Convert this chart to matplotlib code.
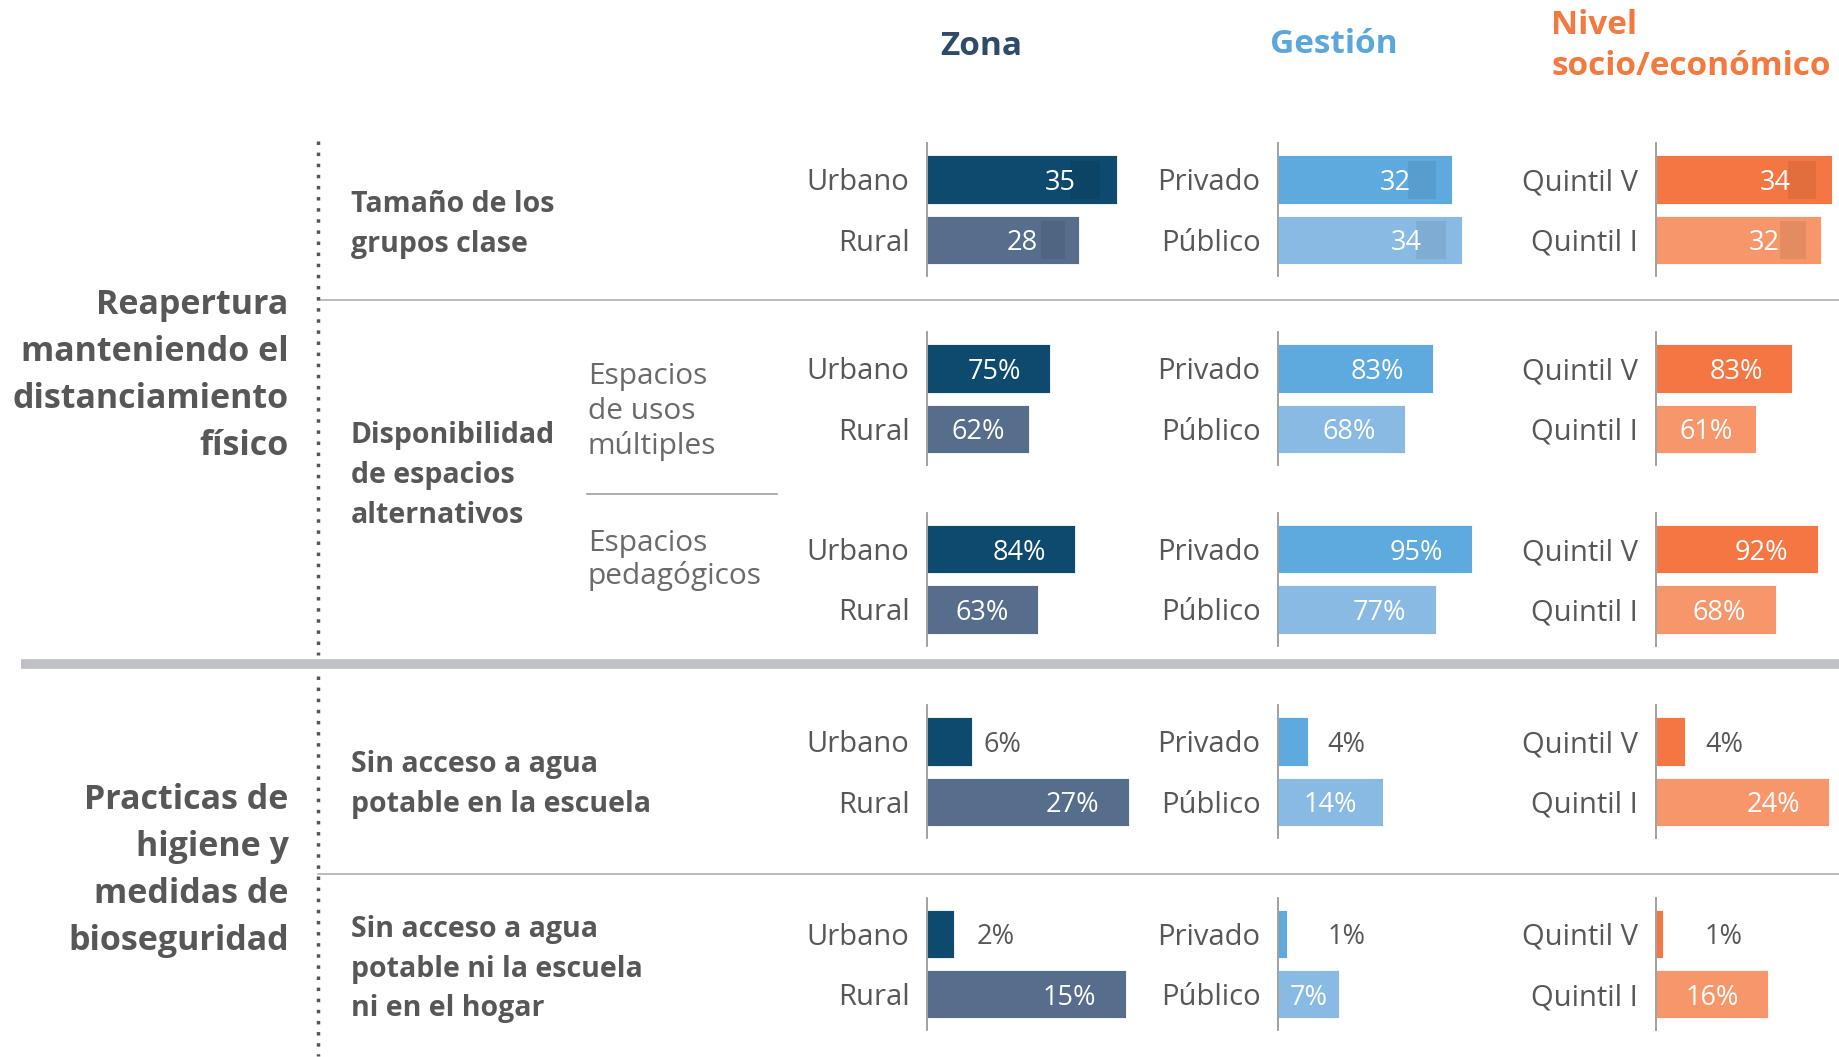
import matplotlib
matplotlib.use("Agg")
import matplotlib.pyplot as plt
from matplotlib.patches import Rectangle

plt.rcParams["font.family"] = ["Open Sans", "DejaVu Sans"]

# ---- data ----
row_titles = [
    "Tamaño de los\ngrupos clase",
    "Disponibilidad\nde espacios\nalternativos",
    "",
    "Sin acceso a agua\npotable en la escuela",
    "Sin acceso a agua\npotable ni la escuela\nni en el hogar",
]
sub_titles = ["", "Espacios\nde usos\nmúltiples", "Espacios\npedagógicos", "", ""]
group_titles = [
    "Reapertura\nmanteniendo el\ndistanciamiento\nfísico",
    "Practicas de\nhigiene y\nmedidas de\nbioseguridad",
]

zona_labels = ["Urbano", "Rural"]
gestion_labels = ["Privado", "Público"]
nivel_labels = ["Quintil V", "Quintil I"]

zona_vals = [[35, 28], [75, 62], [84, 63], [6, 27], [2, 15]]
gestion_vals = [[32, 34], [83, 68], [95, 77], [4, 14], [1, 7]]
nivel_vals = [[34, 32], [83, 61], [92, 68], [4, 24], [1, 16]]
row_units = ["", "%", "%", "%", "%"]

# ---- layout / style (in px of a 1568x901 canvas) ----
W, H = 1568, 901
S2PT = (1840 / 1568) * 72 / 100  # canvas px -> points

panel_x = [790, 1089, 1411]
panel_w = 185
row_center = [153, 314, 468, 632, 796]
row_step = 51.5
panel_xmax = [[40, 40, 42], [132, 116, 132], [123, 106, 123], [29, 29, 30], [16.4, 25, 31]]

groups = [
    ("Zona", zona_labels, zona_vals, ["#0d4a6e", "#566d8b"], "#2f4b6a"),
    ("Gestión", gestion_labels, gestion_vals, ["#5ea9dd", "#88bae4"], "#5ba7dc"),
    ("Nivel\nsocio/económico", nivel_labels, nivel_vals, ["#f47743", "#f7966a"], "#f4793f"),
]

TXT = "#575757"

fig = plt.figure(figsize=(18.4, 10.57), dpi=100)
bg = fig.add_axes([0, 0, 1, 1])
bg.set_xlim(0, W)
bg.set_ylim(H, 0)
bg.axis("off")


def lines(x, ys, text, **kw):
    for y, t in zip(ys, text.split("\n")):
        bg.text(x, y, t, va="center", **kw)


# headers
bg.text(836, 40, "Zona", ha="center", va="center", fontsize=24, fontweight="bold", color=groups[0][4])
bg.text(1137, 38, "Gestión", ha="center", va="center", fontsize=24, fontweight="bold", color=groups[1][4])
lines(1322, [22, 57], groups[2][0], ha="left", fontsize=24, fontweight="bold", color=groups[2][4])

# group titles
lines(246, [260, 300, 340, 380], group_titles[0], ha="right", fontsize=24.5, fontweight="bold", color=TXT)
lines(246, [682, 722, 762, 802], group_titles[1], ha="right", fontsize=24.5, fontweight="bold", color=TXT)

# row titles
title_y = [[174, 208], [371, 405, 439], [], [652, 686], [792, 826, 860]]
for t, ys in zip(row_titles, title_y):
    if t:
        lines(299, ys, t, ha="left", fontsize=20.5, fontweight="bold", color=TXT)
lines(501, [321, 351, 380], sub_titles[1], ha="left", fontsize=21.5, color="#6a6a6a")
lines(501, [463, 491], sub_titles[2], ha="left", fontsize=21.5, color="#6a6a6a")

# separators
bg.plot([271, W], [256, 256], color="#b5b5b5", lw=1.3)
bg.plot([271, W], [745, 745], color="#b5b5b5", lw=1.3)
bg.plot([500, 662], [421, 421], color="#a0a0a0", lw=1.2)
bg.plot([18, W], [566, 566], color="#c0c1c5", lw=7, solid_capstyle="butt")
bg.plot([271, 271], [120, 558], color="#555555", lw=2.5, ls=(0, (1, 2.2)))
bg.plot([271, 271], [576, 900], color="#555555", lw=2.5, ls=(0, (1, 2.2)))

# bar panels
for r in range(5):
    top = row_center[r] - 0.6 * row_step
    h = 2.2 * row_step
    for g, (name, labels, vals, colors, _) in enumerate(groups):
        ax = fig.add_axes([panel_x[g] / W, 1 - (top + h) / H, panel_w / W, h / H])
        ax.set_facecolor("none")
        xmax = panel_xmax[r][g]
        v = vals[r]
        ax.barh([0, 1], v, height=0.8, color=colors, edgecolor="white", linewidth=0.6, zorder=2)
        ax.set_xlim(0, xmax)
        ax.set_ylim(1.6, -0.6)
        ax.set_xticks([])
        ax.set_yticks([0, 1], labels)
        ax.tick_params(axis="y", length=0, pad=15 * S2PT, labelsize=21, labelcolor=TXT)
        for s in ["top", "right", "bottom"]:
            ax.spines[s].set_visible(False)
        ax.spines["left"].set_color("#9a9a9a")
        ax.spines["left"].set_linewidth(1.3)
        ax.spines["left"].set_zorder(3)
        for i, val in enumerate(v):
            w_px = val * panel_w / xmax
            label = f"{val}{row_units[r]}"
            if r == 0:
                ax.add_patch(Rectangle((0.75 * val, i - 0.31), 0.16 * val, 0.63,
                                       color="black", alpha=0.07, lw=0, zorder=2.5))
            if w_px < 50:
                dx = max(w_px + 10, 42) - w_px
                ax.annotate(label, (val, i), xytext=(dx * S2PT, -3 * S2PT), textcoords="offset points",
                            ha="left", va="center", fontsize=19.5, color=TXT, zorder=4)
            else:
                dx = -min(w_px / 2, 48)
                ax.annotate(label, (val, i), xytext=(dx * S2PT, -3 * S2PT), textcoords="offset points",
                            ha="center", va="center", fontsize=19.5, color="white", zorder=4)

fig.savefig("out.png", dpi=100)
